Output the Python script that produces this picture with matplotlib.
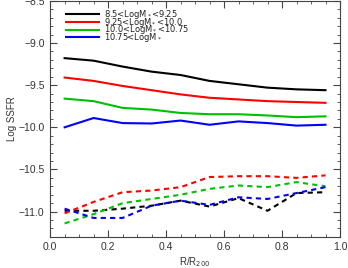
import matplotlib
matplotlib.use("Agg")
import matplotlib.pyplot as plt
from matplotlib.ticker import MultipleLocator

plt.rcParams["font.family"] = ["Liberation Sans", "DejaVu Sans"]

r = [0.05, 0.15, 0.25, 0.35, 0.45, 0.55, 0.65, 0.75, 0.85, 0.95]
labels = ["8.5<LogM$_*$<9.25", "9.25<LogM$_*$<10.0",
          "10.0<LogM$_*$<10.75", "10.75<LogM$_*$"]
colors = ["black", "#ff0000", "#00c000", "#0000ff"]

# solid: star-forming galaxies
sf = [
    [-9.18, -9.21, -9.28, -9.34, -9.38, -9.45, -9.49, -9.53, -9.55, -9.56],
    [-9.41, -9.45, -9.51, -9.56, -9.61, -9.65, -9.67, -9.69, -9.70, -9.71],
    [-9.66, -9.69, -9.77, -9.79, -9.83, -9.845, -9.845, -9.86, -9.88, -9.87],
    [-10.00, -9.89, -9.95, -9.955, -9.92, -9.97, -9.93, -9.95, -9.98, -9.97],
]
# dashed: passive galaxies
pas = [
    [-10.99, -10.99, -10.965, -10.93, -10.87, -10.94, -10.84, -10.99, -10.78, -10.77],
    [-11.02, -10.885, -10.77, -10.75, -10.71, -10.59, -10.58, -10.58, -10.60, -10.57],
    [-11.14, -11.03, -10.90, -10.85, -10.80, -10.73, -10.69, -10.71, -10.65, -10.70],
    [-10.965, -11.075, -11.075, -10.93, -10.87, -10.92, -10.83, -10.85, -10.78, -10.71],
]

fig = plt.figure(figsize=(3.48, 2.68), dpi=100)
ax = fig.add_axes([0.144, 0.116, 0.833, 0.881])
for k in range(4):
    ax.plot(r, sf[k], color=colors[k], lw=1.5, label=labels[k])
for k in range(4):
    ax.plot(r, pas[k], color=colors[k], lw=1.5, ls=(0, (2.5, 2)))

ax.set_xlim(0, 1.0)
ax.set_ylim(-11.3, -8.5)
ax.xaxis.set_major_locator(MultipleLocator(0.2))
ax.xaxis.set_minor_locator(MultipleLocator(0.05))
ax.yaxis.set_major_locator(MultipleLocator(0.5))
ax.yaxis.set_minor_locator(MultipleLocator(0.1))
ax.xaxis.set_major_formatter(lambda v, p: f"{v:.1f}")
ax.yaxis.set_major_formatter(lambda v, p: f"{v:.1f}".replace("-", "\u2212"))
ax.tick_params(which="both", direction="in", top=True, right=True,
               color="#444444", labelcolor="#333333", labelsize=7.5)
ax.tick_params(which="major", length=5, width=0.8, pad=4)
ax.tick_params(which="minor", length=2.5, width=0.6)
for s in ax.spines.values():
    s.set_color("#444444")
    s.set_linewidth(0.8)
ax.set_xlabel("R/R$_{200}$", fontsize=7, color="#333333", labelpad=2)
ax.set_ylabel("Log SSFR", fontsize=7, color="#333333", labelpad=1)

leg = ax.legend(loc="upper left", bbox_to_anchor=(0.035, 0.995), frameon=False,
                prop={"family": "DejaVu Sans", "size": 6}, handlelength=4.0,
                handletextpad=0.6, labelspacing=-0.62, borderaxespad=0.3)
for t in leg.get_texts():
    t.set_color("#222222")

fig.savefig("out.png", dpi=100)
